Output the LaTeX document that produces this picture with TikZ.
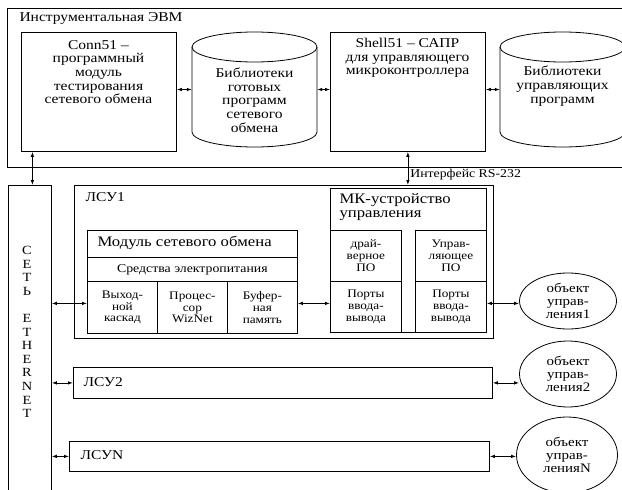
\documentclass[tikz,border=0pt]{standalone}
\usepackage{fontspec}
\setmainfont{Liberation Serif}[FakeStretch=1.15]
\usetikzlibrary{shapes.geometric, arrows.meta, positioning, calc}

\begin{document}
\begin{tikzpicture}[x=1pt, y=-1pt,
    box/.style={rectangle, draw, line width=0.8pt, inner sep=0pt},
    txt/.style={align=center, font=\fontsize{13.5}{13.7}\selectfont},
    small/.style={align=center, font=\fontsize{11.5}{11.8}\selectfont},
    head/.style={align=left, font=\fontsize{14.5}{14}\selectfont},
    lbl/.style={font=\fontsize{12}{12}\selectfont, inner sep=2pt},
    obj/.style={ellipse, draw, line width=0.8pt, inner sep=0pt, align=center, font=\fontsize{13}{13}\selectfont},
    link/.style={{Latex[length=5pt,width=3.5pt]}-{Latex[length=5pt,width=3.5pt]}, line width=0.8pt}
]
\useasboundingbox (0,0) rectangle (622,490);
\clip (0,0) rectangle (622,490);

% Instrumental computer
\node[box, minimum width=619pt, minimum height=159pt, anchor=north west] (evm) at (7,8) {};
\node[txt, anchor=west] (evmlbl) at (16,18) {Инструментальная ЭВМ};

\node[box, minimum width=155pt, minimum height=119pt, anchor=north west] (conn) at (21,32) {};
\node[txt] (conntxt) at (98.5,72) {Conn51 –\\программный\\модуль\\тестирования\\сетевого обмена};

\node[minimum width=125pt, minimum height=115pt, inner sep=0pt] (cyl1) at (254.5,89.5) {};
\draw[line width=0.8pt] (254.5,47) ellipse [x radius=62.5pt, y radius=15pt];
\draw[line width=0.8pt] (192,47) -- (192,132) arc[start angle=180, end angle=360, x radius=62.5pt, y radius=15pt] -- (317,47);
\node[txt] (cyl1txt) at (254.5,100) {Библиотеки\\готовых\\программ\\сетевого\\обмена};

\node[box, minimum width=155pt, minimum height=119pt, anchor=north west] (shell) at (330,32) {};
\node[txt] (shelltxt) at (407.5,58) {Shell51 – САПР\\для управляющего\\микроконтроллера};

\node[minimum width=125pt, minimum height=115pt, inner sep=0pt] (cyl2) at (562.5,89.5) {};
\draw[line width=0.8pt] (562.5,47) ellipse [x radius=62.5pt, y radius=15pt];
\draw[line width=0.8pt] (500,47) -- (500,132) arc[start angle=180, end angle=360, x radius=62.5pt, y radius=15pt] -- (625,47);
\node[txt] (cyl2txt) at (562.5,86) {Библиотеки\\управляющих\\программ};

% Ethernet
\node[box, minimum width=43pt, minimum height=310pt, anchor=north west] (eth) at (8,185) {};
\node[txt, font=\fontsize{12.5}{13.6}\selectfont] (ethtxt) at (27,332) {С\\Е\\Т\\Ь\\[13.6pt]E\\T\\H\\E\\R\\N\\E\\T};

% LSU 1
\node[box, minimum width=419pt, minimum height=153pt, anchor=north west] (lsu1) at (74,185) {};
\node[txt, anchor=west] (lsu1lbl) at (82,197) {ЛСУ1};

\node[box, minimum width=210pt, minimum height=27pt, anchor=north west] (modtitle) at (87,230) {};
\node[head, anchor=west] (modtxt) at (94,243) {Модуль сетевого обмена};
\node[box, minimum width=210pt, minimum height=24pt, anchor=north west, font=\fontsize{12}{12}\selectfont] (power) at (87,257) {Средства электропитания};
\node[box, small, minimum width=70pt, minimum height=52pt, anchor=north west] (outc) at (87,281) {Выход-\\ной\\каскад};
\node[box, small, minimum width=70pt, minimum height=52pt, anchor=north west] (proc) at (157,281) {Процес-\\сор\\WizNet};
\node[box, small, minimum width=70pt, minimum height=52pt, anchor=north west] (buf) at (227,281) {Буфер-\\ная\\память};

\node[box, minimum width=156pt, minimum height=144pt, anchor=north west] (mk) at (330,188) {};
\node[head, anchor=north west] (mktxt) at (336,190) {МК-устройство\\управления};
\node[box, small, minimum width=71pt, minimum height=51pt, anchor=north west] (drv) at (330,230) {драй-\\верное\\ПО};
\node[box, small, minimum width=71pt, minimum height=51pt, anchor=north west] (portl) at (330,281) {Порты\\ввода-\\вывода};
\node[box, small, minimum width=71pt, minimum height=51pt, anchor=north west] (ctl) at (415,230) {Управ-\\ляющее\\ПО};
\node[box, small, minimum width=71pt, minimum height=51pt, anchor=north west] (portr) at (415,281) {Порты\\ввода-\\вывода};

\node[obj, minimum width=97pt, minimum height=56pt] (obj1) at (568,301) {объект\\управ-\\ления1};

% LSU 2 and LSU N
\node[box, minimum width=419pt, minimum height=31pt, anchor=north west] (lsu2) at (73,367) {};
\node[txt, anchor=west] (lsu2lbl) at (80,382) {ЛСУ2};
\node[obj, minimum width=97pt, minimum height=66pt] (obj2) at (568,374) {объект\\управ-\\ления2};

\node[box, minimum width=420pt, minimum height=30pt, anchor=north west] (lsuN) at (69,441) {};
\node[txt, anchor=west] (lsuNlbl) at (77,455) {ЛСУN};
\node[obj, minimum width=101pt, minimum height=76pt] (objN) at (567,455) {объект\\управ-\\ленияN};

% Links
\draw[link] (conn.east |- cyl1.west) -- (cyl1.west);
\draw[link] (cyl1.east) -- (cyl1.east -| shell.west);
\draw[link] (shell.east |- cyl2.west) -- (cyl2.west);
\draw[link] ([xshift=2.5pt]eth.north) -- ([xshift=2.5pt]eth.north |- conn.south);
\draw[link] (shell.south) -- node[pos=0.7, right, lbl] {Интерфейс RS-232} (shell.south |- lsu1.north);
\coordinate (bus1) at ([yshift=4pt]outc.west);
\draw[link] (eth.east |- bus1) -- (bus1);
\draw[link] (buf.east |- bus1) -- (portl.west |- bus1);
\draw[link] (portr.east |- bus1) -- (obj1.west |- bus1);
\draw[link] (eth.east |- lsu2.west) -- (lsu2.west);
\draw[link] (lsu2.east) -- (lsu2.east -| obj2.west);
\draw[link] (eth.east |- lsuN.west) -- (lsuN.west);
\draw[link] (lsuN.east) -- (lsuN.east -| objN.west);
\end{tikzpicture}
\end{document}
